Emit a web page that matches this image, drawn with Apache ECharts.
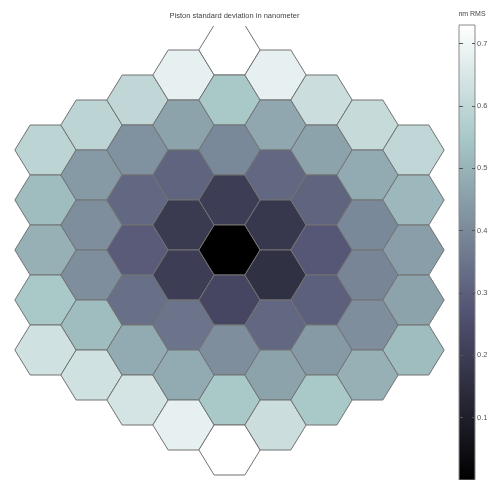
<!DOCTYPE html>
<html>
<head>
<meta charset="utf-8">
<script src="https://cdn.jsdelivr.net/npm/echarts@6/dist/echarts.min.js"></script>
<style>html,body{margin:0;padding:0;background:#fff;}#chart{width:491px;height:480px;}</style>
</head>
<body>
<div id="chart"></div>
<script>
// Segment columns (hexagonal array, flat-topped segments), values listed top to bottom
const columnIndex = [-4, -3, -2, -1, 0, 1, 2, 3, 4];
const colM4 = [0.59, 0.52, 0.49, 0.55, 0.63];
const colM3 = [0.59, 0.44, 0.41, 0.41, 0.52, 0.63];
const colM2 = [0.60, 0.42, 0.32, 0.29, 0.34, 0.48, 0.64];
const colM1 = [0.68, 0.46, 0.31, 0.19, 0.20, 0.35, 0.48, 0.68];
const col0  = [0.73, 0.55, 0.40, 0.20, 0.00, 0.23, 0.41, 0.55, 0.73];
const colP1 = [0.68, 0.47, 0.32, 0.18, 0.16, 0.32, 0.46, 0.62];
const colP2 = [0.62, 0.46, 0.31, 0.28, 0.30, 0.44, 0.55];
const colP3 = [0.61, 0.48, 0.40, 0.39, 0.41, 0.49];
const colP4 = [0.60, 0.51, 0.45, 0.46, 0.52];
const columnValues = [colM4, colM3, colM2, colM1, col0, colP1, colP2, colP3, colP4];

const colorbarTicks = [0.1, 0.2, 0.3, 0.4, 0.5, 0.6, 0.7];
const colorMin = 0;
const colorMax = 0.73;

// hex layout: column c, row r (top row of column c is 4 - |c|/2)
const segments = [];
columnIndex.forEach(function (c, i) {
  const vals = columnValues[i];
  const top = 4 - Math.abs(c) / 2;
  vals.forEach(function (v, k) { segments.push([c, top - k, v]); });
});

// matplotlib "bone" colormap
function interp(anchors, t) {
  for (let i = 1; i < anchors.length; i++) {
    if (t <= anchors[i][0]) {
      const a = anchors[i - 1], b = anchors[i];
      return a[1] + (b[1] - a[1]) * (t - a[0]) / (b[0] - a[0]);
    }
  }
  return anchors[anchors.length - 1][1];
}
const boneR = [[0, 0], [0.746032, 0.652778], [1, 1]];
const boneG = [[0, 0], [0.365079, 0.319444], [0.746032, 0.777778], [1, 1]];
const boneB = [[0, 0], [0.365079, 0.444444], [1, 1]];
function bone(t) {
  const f = function (x) { return Math.round(x * 255); };
  return 'rgb(' + f(interp(boneR, t)) + ',' + f(interp(boneG, t)) + ',' + f(interp(boneB, t)) + ')';
}
const NSTOP = 64;
const boneColors = [];
for (let i = 0; i <= NSTOP; i++) boneColors.push(bone(i / NSTOP));

const HW = 2 / 3, HH = 0.5;
function renderHex(params, api) {
  const c = api.value(0), r = api.value(1);
  const pts = [
    [c - HW, r], [c - HW / 2, r + HH], [c + HW / 2, r + HH],
    [c + HW, r], [c + HW / 2, r - HH], [c - HW / 2, r - HH]
  ].map(function (p) { return api.coord(p); });
  return {
    type: 'polygon',
    shape: { points: pts },
    style: { fill: api.visual('color'), stroke: '#727272', lineWidth: 1 }
  };
}
function renderBar(params, api) {
  const p0 = api.coord([0, api.value(0)]);
  const p1 = api.coord([1, api.value(1)]);
  return {
    type: 'rect',
    shape: { x: p0[0], y: p1[1], width: p1[0] - p0[0], height: p0[1] - p1[1] },
    style: {
      fill: {
        type: 'linear', x: 0, y: 1, x2: 0, y2: 0,
        colorStops: boneColors.map(function (col, i) { return { offset: i / NSTOP, color: col }; })
      },
      stroke: '#8a8a8a', lineWidth: 1
    }
  };
}

const chart = echarts.init(document.getElementById('chart'), null, { renderer: 'canvas' });
chart.setOption({
  animation: false,
  backgroundColor: '#fff',
  textStyle: { fontFamily: 'Liberation Sans, Arial, sans-serif' },
  title: [
    { text: 'Piston standard deviation in nanometer', left: 229.5, textAlign: 'center', top: 7,
      textStyle: { fontSize: 7.5, fontWeight: 'normal', color: '#444', fontFamily: 'Liberation Sans' } },
    { text: 'nm RMS', left: 467, textAlign: 'center', top: 6,
      textStyle: { fontSize: 7, fontWeight: 'normal', color: '#444', fontFamily: 'Liberation Sans' } }
  ],
  grid: [
    { left: 11, width: 437, top: 26, height: 454 },
    { left: 459, width: 16, top: 25, height: 457 }
  ],
  xAxis: [
    { gridIndex: 0, type: 'value', min: -4.75, max: 4.75, show: false },
    { gridIndex: 1, type: 'value', min: 0, max: 1, show: false }
  ],
  yAxis: [
    { gridIndex: 0, type: 'value', min: -4.6, max: 4.48, show: false },
    { gridIndex: 1, type: 'value', min: colorMin, max: colorMax, position: 'right', z: 10,
      splitLine: { show: false }, axisLine: { show: false, onZero: false },
      axisTick: { show: true, inside: true, length: 3, customValues: colorbarTicks, lineStyle: { color: '#555' } },
      axisLabel: { show: true, customValues: colorbarTicks, margin: 2, fontSize: 7.5, color: '#555',
        fontFamily: 'Liberation Sans', formatter: function (v) { return v.toFixed(1); } } },
    { gridIndex: 1, type: 'value', min: colorMin, max: colorMax, position: 'left', z: 10,
      splitLine: { show: false }, axisLine: { show: false, onZero: false }, axisLabel: { show: false },
      axisTick: { show: true, inside: true, length: 4, customValues: colorbarTicks, lineStyle: { color: '#555' } } }
  ],
  visualMap: {
    type: 'continuous', show: false, seriesIndex: 0, dimension: 2,
    min: colorMin, max: colorMax, inRange: { color: boneColors }
  },
  series: [
    { type: 'custom', xAxisIndex: 0, yAxisIndex: 0, clip: true, renderItem: renderHex,
      data: segments, encode: { x: 0, y: 1 } },
    { type: 'custom', xAxisIndex: 1, yAxisIndex: 1, renderItem: renderBar,
      data: [[colorMin, colorMax]], encode: { y: [0, 1] } }
  ]
});
</script>
</body>
</html>
